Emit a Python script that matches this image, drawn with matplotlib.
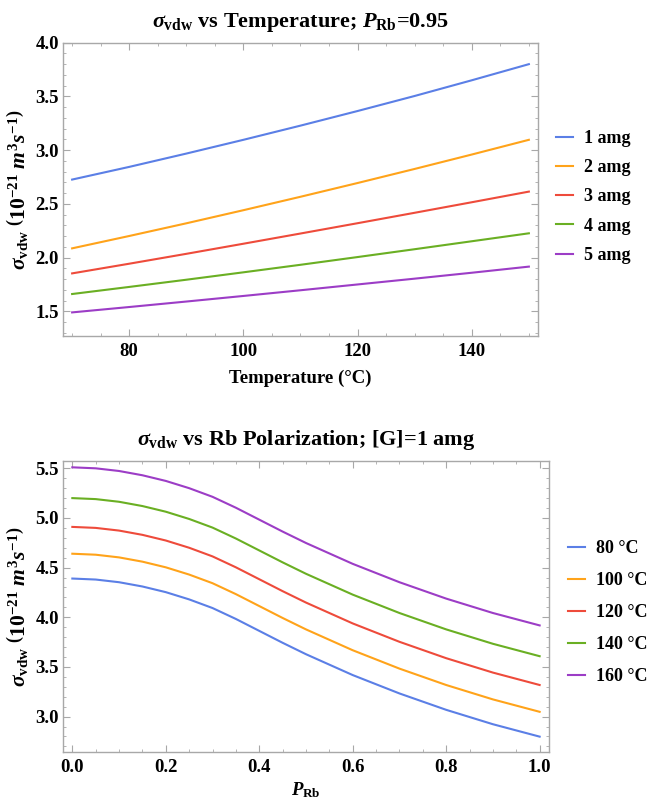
import numpy as np
import matplotlib
matplotlib.use('Agg')
import matplotlib.pyplot as plt
from matplotlib.ticker import MultipleLocator, FormatStrFormatter

# Fonts: bold serif everywhere, math in the same family
plt.rcParams['font.family'] = 'Liberation Serif'
plt.rcParams['font.weight'] = 'bold'
plt.rcParams['axes.titleweight'] = 'bold'
plt.rcParams['axes.labelweight'] = 'bold'
plt.rcParams['mathtext.fontset'] = 'custom'
plt.rcParams['mathtext.rm'] = 'Liberation Serif:bold'
plt.rcParams['mathtext.it'] = 'Liberation Serif:bold:italic'
plt.rcParams['mathtext.bf'] = 'Liberation Serif:bold'

colors = ['#5b7fe6', '#ffa31a', '#ee4b3b', '#6aaf23', '#9c3dc6']
frame_color = '#a8a8a8'

# Top panel: sigma_vdw vs temperature at P_Rb = 0.95
temps = [70, 80, 90, 100, 110, 120, 130, 140, 150]
amg_labels = ['1 amg', '2 amg', '3 amg', '4 amg', '5 amg']
sig_1amg = [2.726, 2.844, 2.968, 3.096, 3.228, 3.364, 3.504, 3.650, 3.800]
sig_2amg = [2.086, 2.201, 2.319, 2.441, 2.566, 2.694, 2.825, 2.959, 3.096]
sig_3amg = [1.853, 1.943, 2.035, 2.129, 2.224, 2.320, 2.417, 2.515, 2.614]
sig_4amg = [1.661, 1.727, 1.794, 1.863, 1.933, 2.005, 2.078, 2.152, 2.226]
sig_5amg = [1.490, 1.540, 1.591, 1.643, 1.696, 1.750, 1.804, 1.859, 1.916]

# Bottom panel: sigma_vdw vs Rb polarization at [G] = 1 amg
p_rb = [0.0, 0.05, 0.1, 0.15, 0.2, 0.25, 0.3, 0.35, 0.4, 0.45, 0.5, 0.6, 0.7, 0.8, 0.9, 1.0]
temp_labels = ['80 \u00b0C', '100 \u00b0C', '120 \u00b0C', '140 \u00b0C', '160 \u00b0C']
sig_80C = [4.39, 4.38, 4.353, 4.31, 4.253, 4.18, 4.093, 3.983, 3.863, 3.743, 3.628, 3.418, 3.233, 3.068, 2.923, 2.798]
sig_100C = [4.64, 4.63, 4.603, 4.56, 4.503, 4.43, 4.343, 4.233, 4.113, 3.993, 3.878, 3.668, 3.483, 3.318, 3.173, 3.048]
sig_120C = [4.91, 4.90, 4.873, 4.83, 4.773, 4.70, 4.613, 4.503, 4.383, 4.263, 4.148, 3.938, 3.753, 3.588, 3.443, 3.318]
sig_140C = [5.20, 5.19, 5.163, 5.12, 5.063, 4.99, 4.903, 4.793, 4.673, 4.553, 4.438, 4.228, 4.043, 3.878, 3.733, 3.608]
sig_160C = [5.51, 5.50, 5.473, 5.43, 5.373, 5.30, 5.213, 5.103, 4.983, 4.863, 4.748, 4.538, 4.353, 4.188, 4.043, 3.918]

ylabel = r'$\sigma_{\rm vdw}\ \left(10^{-21}\ m^3 s^{-1}\right)$'
fs = 13.5


def style_frame(ax):
    for sp in ax.spines.values():
        sp.set_color(frame_color)
        sp.set_linewidth(1.0)
    ax.tick_params(which='both', direction='in', colors=frame_color,
                   labelcolor='black', labelsize=fs, top=True, right=True)
    ax.tick_params(which='major', length=5, width=0.8)
    ax.tick_params(which='minor', length=2.5, width=0.6)
    ax.tick_params(axis='x', pad=5)
    ax.tick_params(axis='y', pad=3)
    ax.yaxis.set_major_formatter(FormatStrFormatter('%.1f'))


def add_legend(ax, anchor, spacing):
    ax.legend(loc='center left', bbox_to_anchor=anchor, bbox_transform=fig.transFigure,
              frameon=False, fontsize=13, borderpad=0, borderaxespad=0,
              handlelength=0.95, handletextpad=0.62, labelspacing=spacing)


fig = plt.figure(figsize=(6.5, 8.02), dpi=100)

# Top panel
ax1 = fig.add_axes([0.0969, 0.581, 0.7308, 0.3658])
for ys, c, lab in zip([sig_1amg, sig_2amg, sig_3amg, sig_4amg, sig_5amg], colors, amg_labels):
    ax1.plot(temps, ys, color=c, lw=1.5, label=lab)
ax1.set_xlim(68.4, 151.6)
ax1.set_ylim(1.27, 4.0)
ax1.xaxis.set_major_locator(MultipleLocator(20))
ax1.xaxis.set_minor_locator(MultipleLocator(5))
ax1.yaxis.set_major_locator(MultipleLocator(0.5))
ax1.yaxis.set_minor_locator(MultipleLocator(0.1))
style_frame(ax1)
ax1.set_title(r'$\sigma_{\rm vdw}$ vs Temperature; $P_{\rm Rb}$=0.95', fontsize=16, pad=11)
ax1.set_xlabel('Temperature (\u00b0C)', fontsize=fs, labelpad=7)
ax1.set_ylabel(ylabel, fontsize=15.5, labelpad=4)
add_legend(ax1, (0.855, 0.7544), 0.68)

# Bottom panel
ax2 = fig.add_axes([0.0969, 0.0623, 0.7477, 0.3633])
for ys, c, lab in zip([sig_80C, sig_100C, sig_120C, sig_140C, sig_160C], colors, temp_labels):
    ax2.plot(p_rb, ys, color=c, lw=1.5, label=lab)
ax2.set_xlim(-0.02, 1.02)
ax2.set_ylim(2.643, 5.577)
ax2.xaxis.set_major_locator(MultipleLocator(0.2))
ax2.xaxis.set_minor_locator(MultipleLocator(0.05))
ax2.yaxis.set_major_locator(MultipleLocator(0.5))
ax2.yaxis.set_minor_locator(MultipleLocator(0.1))
ax2.xaxis.set_major_formatter(FormatStrFormatter('%.1f'))
style_frame(ax2)
ax2.set_title(r'$\sigma_{\rm vdw}$ vs Rb Polarization; [G]=1 amg', fontsize=16, pad=11)
ax2.set_xlabel(r'$P_{\rm Rb}$', fontsize=fs, labelpad=3)
ax2.set_ylabel(ylabel, fontsize=15.5, labelpad=4)
add_legend(ax2, (0.874, 0.236), 0.83)

fig.savefig('out.png', dpi=100)
